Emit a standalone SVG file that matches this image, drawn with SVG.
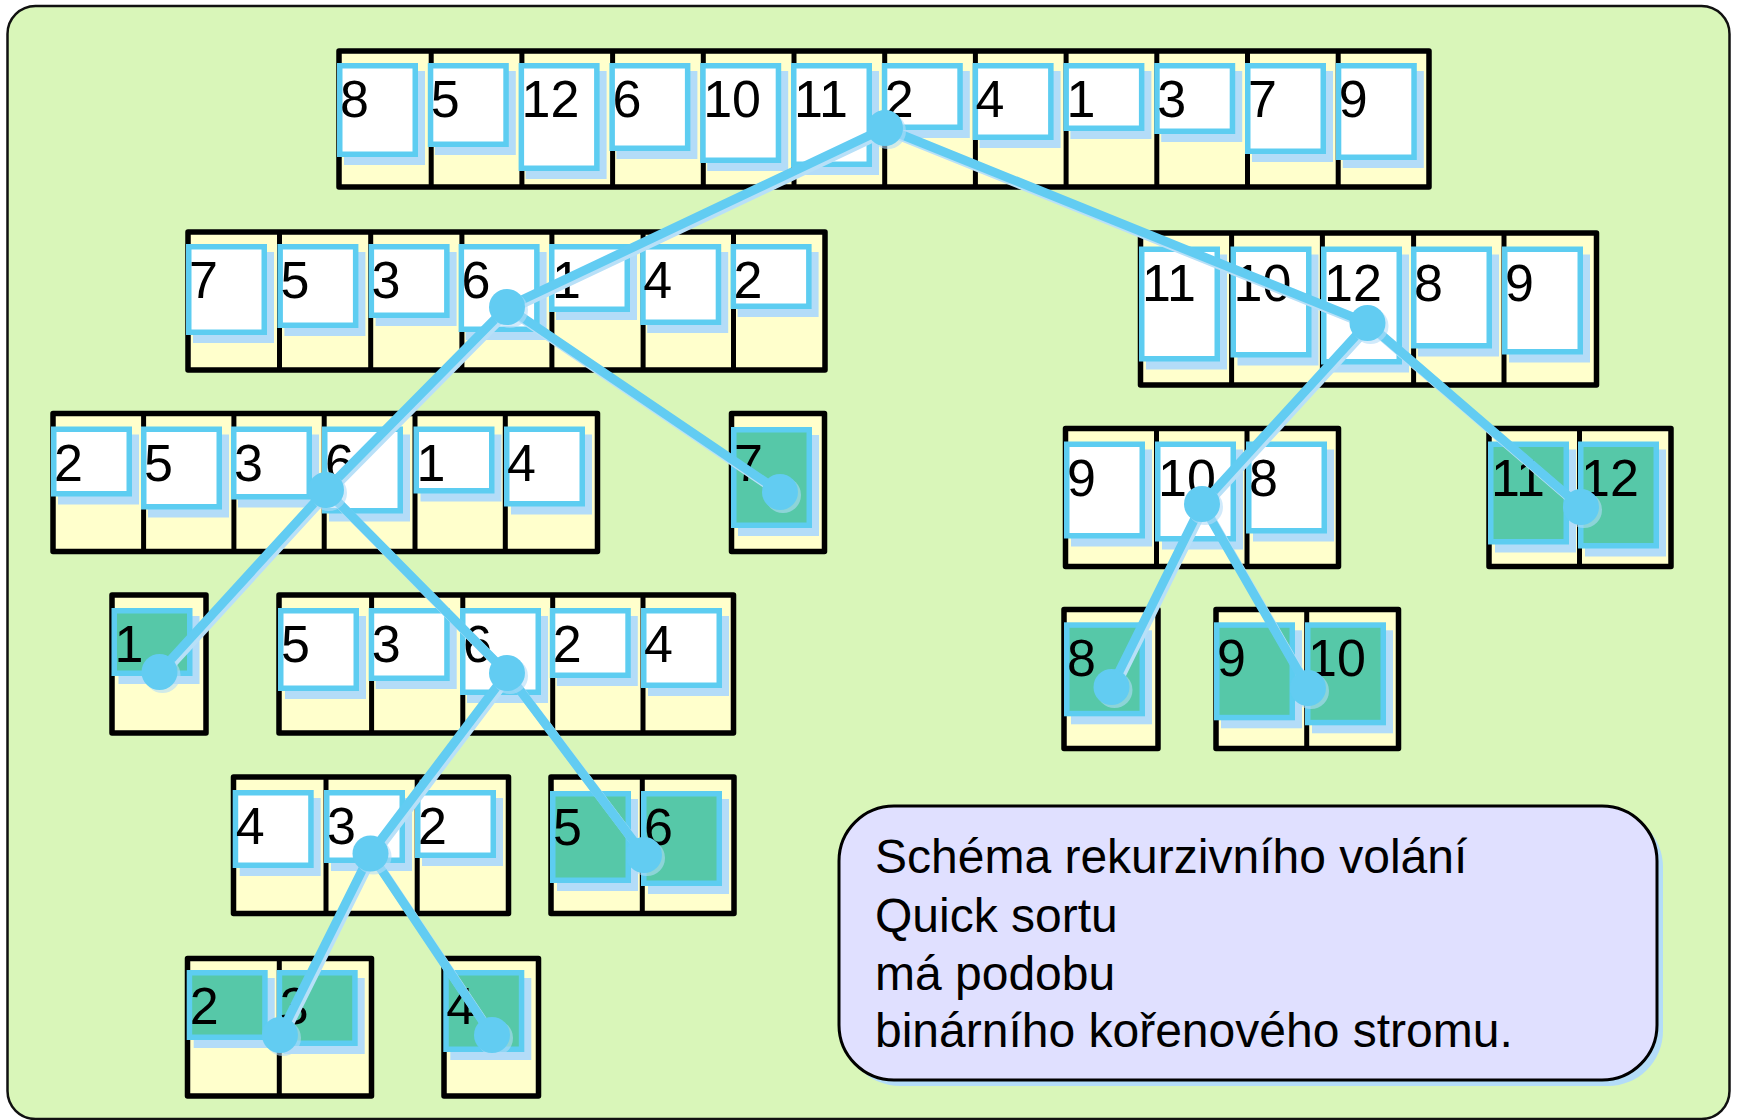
<svg xmlns="http://www.w3.org/2000/svg" width="1737" height="1120" viewBox="0 0 1737 1120">
<style>
.frame{fill:#D9F6B9;stroke:#111;stroke-width:2.5}
.box{fill:#FFFFCC;stroke:#000;stroke-width:5.5;stroke-linejoin:round}
.dv{fill:none;stroke:#000;stroke-width:5}
.sh{fill:#B3DCF8}
.cw{fill:#FFFFFF;stroke:#5DCDF1;stroke-width:5.5}
.cg{fill:#56C8A8;stroke:#5DCDF1;stroke-width:5.5}
.num{font-family:"Liberation Sans",Arial,sans-serif;font-size:52px;fill:#000}
.esh{fill:none;stroke:#B8E0F8;stroke-width:9;stroke-linecap:round}
.edge{fill:none;stroke:#62CCF2;stroke-width:9;stroke-linecap:round}
.dsh{fill:#B3DCF8;opacity:0.6}
.dot{fill:#62CCF2}
.note{fill:#E0E0FF;stroke:#000;stroke-width:3}
.notesh{fill:#B3DCF8}
.txt{font-family:"Liberation Sans",Arial,sans-serif;font-size:48px;fill:#000}
</style>
<rect class="frame" x="7.5" y="6" width="1722" height="1113" rx="28"/>

<g id="n0">
<rect class="box" x="339" y="51" width="1090" height="136"/>
<path class="dv" d="M431.2 51V187M521.9 51V187M612.6 51V187M703.3 51V187M794 51V187M884.7 51V187M975.4 51V187M1066.1 51V187M1156.8 51V187M1247.5 51V187M1338.2 51V187"/>
<g transform="translate(337,63)"><rect class="sh" x="7" y="8" width="81" height="94"/><rect class="cw" x="2.75" y="2.75" width="75.5" height="88.5"/><text class="num" x="3" y="54">8</text></g>
<g transform="translate(427.8,63)"><rect class="sh" x="7" y="8" width="81" height="84"/><rect class="cw" x="2.75" y="2.75" width="75.5" height="78.5"/><text class="num" x="3" y="54">5</text></g>
<g transform="translate(518.6,63)"><rect class="sh" x="7" y="8" width="81" height="108"/><rect class="cw" x="2.75" y="2.75" width="75.5" height="102.5"/><text class="num" x="3" y="54">12</text></g>
<g transform="translate(609.4,63)"><rect class="sh" x="7" y="8" width="81" height="88"/><rect class="cw" x="2.75" y="2.75" width="75.5" height="82.5"/><text class="num" x="3" y="54">6</text></g>
<g transform="translate(700.2,63)"><rect class="sh" x="7" y="8" width="81" height="100"/><rect class="cw" x="2.75" y="2.75" width="75.5" height="94.5"/><text class="num" x="3" y="54">10</text></g>
<g transform="translate(791,63)"><rect class="sh" x="7" y="8" width="81" height="104"/><rect class="cw" x="2.75" y="2.75" width="75.5" height="98.5"/><text class="num" x="3" y="54">11</text></g>
<g transform="translate(881.8,63)"><rect class="sh" x="7" y="8" width="81" height="67"/><rect class="cw" x="2.75" y="2.75" width="75.5" height="61.5"/><text class="num" x="3" y="54">2</text></g>
<g transform="translate(972.6,63)"><rect class="sh" x="7" y="8" width="81" height="77"/><rect class="cw" x="2.75" y="2.75" width="75.5" height="71.5"/><text class="num" x="3" y="54">4</text></g>
<g transform="translate(1063.4,63)"><rect class="sh" x="7" y="8" width="81" height="68"/><rect class="cw" x="2.75" y="2.75" width="75.5" height="62.5"/><text class="num" x="3" y="54">1</text></g>
<g transform="translate(1154.2,63)"><rect class="sh" x="7" y="8" width="81" height="71"/><rect class="cw" x="2.75" y="2.75" width="75.5" height="65.5"/><text class="num" x="3" y="54">3</text></g>
<g transform="translate(1245,63)"><rect class="sh" x="7" y="8" width="81" height="91"/><rect class="cw" x="2.75" y="2.75" width="75.5" height="85.5"/><text class="num" x="3" y="54">7</text></g>
<g transform="translate(1335.8,63)"><rect class="sh" x="7" y="8" width="81" height="97"/><rect class="cw" x="2.75" y="2.75" width="75.5" height="91.5"/><text class="num" x="3" y="54">9</text></g>
</g>

<g id="n1">
<rect class="box" x="188" y="232" width="637" height="138"/>
<path class="dv" d="M279.5 232V370M370.7 232V370M461.9 232V370M551.9 232V370M643.1 232V370M733.5 232V370"/>
<g transform="translate(186,244)"><rect class="sh" x="7" y="8" width="81" height="91"/><rect class="cw" x="2.75" y="2.75" width="75.5" height="85.5"/><text class="num" x="3" y="54">7</text></g>
<g transform="translate(277.4,244)"><rect class="sh" x="7" y="8" width="81" height="84"/><rect class="cw" x="2.75" y="2.75" width="75.5" height="78.5"/><text class="num" x="3" y="54">5</text></g>
<g transform="translate(368.6,244)"><rect class="sh" x="7" y="8" width="81" height="74"/><rect class="cw" x="2.75" y="2.75" width="75.5" height="68.5"/><text class="num" x="3" y="54">3</text></g>
<g transform="translate(458.6,244)"><rect class="sh" x="7" y="8" width="81" height="88"/><rect class="cw" x="2.75" y="2.75" width="75.5" height="82.5"/><text class="num" x="3" y="54">6</text></g>
<g transform="translate(549,244)"><rect class="sh" x="7" y="8" width="81" height="68"/><rect class="cw" x="2.75" y="2.75" width="75.5" height="62.5"/><text class="num" x="3" y="54">1</text></g>
<g transform="translate(640.2,244)"><rect class="sh" x="7" y="8" width="81" height="81"/><rect class="cw" x="2.75" y="2.75" width="75.5" height="75.5"/><text class="num" x="3" y="54">4</text></g>
<g transform="translate(730.6,244)"><rect class="sh" x="7" y="8" width="81" height="65"/><rect class="cw" x="2.75" y="2.75" width="75.5" height="59.5"/><text class="num" x="3" y="54">2</text></g>
</g>

<g id="n2">
<rect class="box" x="1140.5" y="233" width="456" height="152"/>
<path class="dv" d="M1231.6 233V385M1322.4 233V385M1413.6 233V385M1504 233V385"/>
<g transform="translate(1139,246.5)"><rect class="sh" x="7" y="8" width="81" height="115"/><rect class="cw" x="2.75" y="2.75" width="75.5" height="109.5"/><text class="num" x="3" y="54">11</text></g>
<g transform="translate(1230.5,246.5)"><rect class="sh" x="7" y="8" width="81" height="111"/><rect class="cw" x="2.75" y="2.75" width="75.5" height="105.5"/><text class="num" x="3" y="54">10</text></g>
<g transform="translate(1321,246.5)"><rect class="sh" x="7" y="8" width="81" height="118"/><rect class="cw" x="2.75" y="2.75" width="75.5" height="112.5"/><text class="num" x="3" y="54">12</text></g>
<g transform="translate(1411,246.5)"><rect class="sh" x="7" y="8" width="81" height="102"/><rect class="cw" x="2.75" y="2.75" width="75.5" height="96.5"/><text class="num" x="3" y="54">8</text></g>
<g transform="translate(1502,246.5)"><rect class="sh" x="7" y="8" width="81" height="108"/><rect class="cw" x="2.75" y="2.75" width="75.5" height="102.5"/><text class="num" x="3" y="54">9</text></g>
</g>

<g id="n3">
<rect class="box" x="53" y="413.5" width="544.5" height="138"/>
<path class="dv" d="M143.6 413.5V551.5M233.9 413.5V551.5M324.2 413.5V551.5M415 413.5V551.5M505.3 413.5V551.5"/>
<g transform="translate(51,426.5)"><rect class="sh" x="7" y="8" width="81" height="70"/><rect class="cw" x="2.75" y="2.75" width="75.5" height="64.5"/><text class="num" x="3" y="54">2</text></g>
<g transform="translate(141,426.5)"><rect class="sh" x="7" y="8" width="81" height="83"/><rect class="cw" x="2.75" y="2.75" width="75.5" height="77.5"/><text class="num" x="3" y="54">5</text></g>
<g transform="translate(231,426.5)"><rect class="sh" x="7" y="8" width="81" height="73"/><rect class="cw" x="2.75" y="2.75" width="75.5" height="67.5"/><text class="num" x="3" y="54">3</text></g>
<g transform="translate(322,426.5)"><rect class="sh" x="7" y="8" width="81" height="87"/><rect class="cw" x="2.75" y="2.75" width="75.5" height="81.5"/><text class="num" x="3" y="54">6</text></g>
<g transform="translate(413.5,426.5)"><rect class="sh" x="7" y="8" width="81" height="67"/><rect class="cw" x="2.75" y="2.75" width="75.5" height="61.5"/><text class="num" x="3" y="54">1</text></g>
<g transform="translate(504,426.5)"><rect class="sh" x="7" y="8" width="81" height="80"/><rect class="cw" x="2.75" y="2.75" width="75.5" height="74.5"/><text class="num" x="3" y="54">4</text></g>
</g>

<g id="n4">
<rect class="box" x="731.5" y="413.5" width="93" height="138"/>
<g transform="translate(731,427)"><rect class="sh" x="7" y="8" width="81" height="101"/><rect class="cg" x="2.75" y="2.75" width="75.5" height="95.5"/><text class="num" x="3" y="54">7</text></g>
</g>

<g id="n5">
<rect class="box" x="1065.5" y="428.5" width="273" height="138"/>
<path class="dv" d="M1156.5 428.5V566.5M1247 428.5V566.5"/>
<g transform="translate(1064,441.5)"><rect class="sh" x="7" y="8" width="81" height="97"/><rect class="cw" x="2.75" y="2.75" width="75.5" height="91.5"/><text class="num" x="3" y="54">9</text></g>
<g transform="translate(1155,441.5)"><rect class="sh" x="7" y="8" width="81" height="100"/><rect class="cw" x="2.75" y="2.75" width="75.5" height="94.5"/><text class="num" x="3" y="54">10</text></g>
<g transform="translate(1246,441.5)"><rect class="sh" x="7" y="8" width="81" height="92"/><rect class="cw" x="2.75" y="2.75" width="75.5" height="86.5"/><text class="num" x="3" y="54">8</text></g>
</g>

<g id="n6">
<rect class="box" x="1489" y="428.5" width="182" height="138"/>
<path class="dv" d="M1579.5 428.5V566.5"/>
<g transform="translate(1488,441.5)"><rect class="sh" x="7" y="8" width="81" height="103"/><rect class="cg" x="2.75" y="2.75" width="75.5" height="97.5"/><text class="num" x="3" y="54">11</text></g>
<g transform="translate(1578,441.5)"><rect class="sh" x="7" y="8" width="81" height="107"/><rect class="cg" x="2.75" y="2.75" width="75.5" height="101.5"/><text class="num" x="3" y="54">12</text></g>
</g>

<g id="n7">
<rect class="box" x="112" y="595" width="94" height="138"/>
<g transform="translate(111.5,608)"><rect class="sh" x="7" y="8" width="81" height="68"/><rect class="cg" x="2.75" y="2.75" width="75.5" height="62.5"/><text class="num" x="3" y="54">1</text></g>
</g>

<g id="n8">
<rect class="box" x="279" y="595" width="454.5" height="138"/>
<path class="dv" d="M371.6 595V733M462.8 595V733M552.7 595V733M643 595V733"/>
<g transform="translate(278,608)"><rect class="sh" x="7" y="8" width="81" height="83"/><rect class="cw" x="2.75" y="2.75" width="75.5" height="77.5"/><text class="num" x="3" y="54">5</text></g>
<g transform="translate(368.7,608)"><rect class="sh" x="7" y="8" width="81" height="73"/><rect class="cw" x="2.75" y="2.75" width="75.5" height="67.5"/><text class="num" x="3" y="54">3</text></g>
<g transform="translate(460,608)"><rect class="sh" x="7" y="8" width="81" height="87"/><rect class="cw" x="2.75" y="2.75" width="75.5" height="81.5"/><text class="num" x="3" y="54">6</text></g>
<g transform="translate(549.8,608)"><rect class="sh" x="7" y="8" width="81" height="70"/><rect class="cw" x="2.75" y="2.75" width="75.5" height="64.5"/><text class="num" x="3" y="54">2</text></g>
<g transform="translate(641,608)"><rect class="sh" x="7" y="8" width="81" height="80"/><rect class="cw" x="2.75" y="2.75" width="75.5" height="74.5"/><text class="num" x="3" y="54">4</text></g>
</g>

<g id="n9">
<rect class="box" x="1064" y="609.5" width="94" height="139"/>
<g transform="translate(1064,622.3)"><rect class="sh" x="7" y="8" width="81" height="94"/><rect class="cg" x="2.75" y="2.75" width="75.5" height="88.5"/><text class="num" x="3" y="54">8</text></g>
</g>

<g id="n10">
<rect class="box" x="1216" y="609.5" width="182.5" height="139"/>
<path class="dv" d="M1306.7 609.5V748.5"/>
<g transform="translate(1214,622.3)"><rect class="sh" x="7" y="8" width="81" height="98"/><rect class="cg" x="2.75" y="2.75" width="75.5" height="92.5"/><text class="num" x="3" y="54">9</text></g>
<g transform="translate(1305,622.3)"><rect class="sh" x="7" y="8" width="81" height="103"/><rect class="cg" x="2.75" y="2.75" width="75.5" height="97.5"/><text class="num" x="3" y="54">10</text></g>
</g>

<g id="n11">
<rect class="box" x="233.5" y="777" width="275" height="136.5"/>
<path class="dv" d="M326 777V913.5M417.2 777V913.5"/>
<g transform="translate(232.7,790)"><rect class="sh" x="7" y="8" width="81" height="78"/><rect class="cw" x="2.75" y="2.75" width="75.5" height="72.5"/><text class="num" x="3" y="54">4</text></g>
<g transform="translate(324,790)"><rect class="sh" x="7" y="8" width="81" height="73"/><rect class="cw" x="2.75" y="2.75" width="75.5" height="67.5"/><text class="num" x="3" y="54">3</text></g>
<g transform="translate(415,790)"><rect class="sh" x="7" y="8" width="81" height="68"/><rect class="cw" x="2.75" y="2.75" width="75.5" height="62.5"/><text class="num" x="3" y="54">2</text></g>
</g>

<g id="n12">
<rect class="box" x="551" y="777" width="183" height="136.5"/>
<path class="dv" d="M642.3 777V913.5"/>
<g transform="translate(550,791)"><rect class="sh" x="7" y="8" width="81" height="92"/><rect class="cg" x="2.75" y="2.75" width="75.5" height="86.5"/><text class="num" x="3" y="54">5</text></g>
<g transform="translate(641,791)"><rect class="sh" x="7" y="8" width="81" height="95"/><rect class="cg" x="2.75" y="2.75" width="75.5" height="89.5"/><text class="num" x="3" y="54">6</text></g>
</g>

<g id="n13">
<rect class="box" x="187.5" y="958.5" width="184" height="137.5"/>
<path class="dv" d="M279.3 958.5V1096"/>
<g transform="translate(186.7,970)"><rect class="sh" x="7" y="8" width="81" height="70"/><rect class="cg" x="2.75" y="2.75" width="75.5" height="64.5"/><text class="num" x="3" y="54">2</text></g>
<g transform="translate(276.7,970)"><rect class="sh" x="7" y="8" width="81" height="76"/><rect class="cg" x="2.75" y="2.75" width="75.5" height="70.5"/><text class="num" x="3" y="54">3</text></g>
</g>

<g id="n14">
<rect class="box" x="444" y="958.5" width="94.5" height="137.5"/>
<g transform="translate(443.3,970)"><rect class="sh" x="7" y="8" width="81" height="82"/><rect class="cg" x="2.75" y="2.75" width="75.5" height="76.5"/><text class="num" x="3" y="54">4</text></g>
</g>

<g id="connectors">
<g transform="translate(2.5,3)">
<path class="esh" d="M885 128L507 307M885 128L1367.5 323M507 307L326 490M507 307L780 492M1367.5 323L1202 504M1367.5 323L1581 507M326 490L159.5 672M326 490L507 673M1202 504L1111.5 687M1202 504L1308 688M507 673L370.5 853.5M507 673L644 855M370.5 853.5L280 1035M370.5 853.5L492 1035"/>
</g>
<path class="edge" d="M885 128L507 307M885 128L1367.5 323M507 307L326 490M507 307L780 492M1367.5 323L1202 504M1367.5 323L1581 507M326 490L159.5 672M326 490L507 673M1202 504L1111.5 687M1202 504L1308 688M507 673L370.5 853.5M507 673L644 855M370.5 853.5L280 1035M370.5 853.5L492 1035"/>
<g class="dsh">
<circle cx="888" cy="131" r="18"/><circle cx="510" cy="310" r="18"/><circle cx="1370.5" cy="326" r="18"/><circle cx="329" cy="493" r="18"/><circle cx="783" cy="495" r="18"/><circle cx="1205" cy="507" r="18"/><circle cx="1584" cy="510" r="18"/><circle cx="162.5" cy="675" r="18"/><circle cx="510" cy="676" r="18"/><circle cx="1114.5" cy="690" r="18"/><circle cx="1311" cy="691" r="18"/><circle cx="373.5" cy="856.5" r="18"/><circle cx="647" cy="858" r="18"/><circle cx="283" cy="1038" r="18"/><circle cx="495" cy="1038" r="18"/>
</g>
<g class="dot">
<circle cx="885" cy="128" r="18"/><circle cx="507" cy="307" r="18"/><circle cx="1367.5" cy="323" r="18"/><circle cx="326" cy="490" r="18"/><circle cx="780" cy="492" r="18"/><circle cx="1202" cy="504" r="18"/><circle cx="1581" cy="507" r="18"/><circle cx="159.5" cy="672" r="18"/><circle cx="507" cy="673" r="18"/><circle cx="1111.5" cy="687" r="18"/><circle cx="1308" cy="688" r="18"/><circle cx="370.5" cy="853.5" r="18"/><circle cx="644" cy="855" r="18"/><circle cx="280" cy="1035" r="18"/><circle cx="492" cy="1035" r="18"/>
</g>
</g>

<g id="note">
<rect class="notesh" x="845" y="812" width="818" height="274" rx="55"/>
<rect class="note" x="839" y="806" width="818" height="274" rx="55"/>
<text class="txt" x="875" y="873">Schéma rekurzivního volání</text>
<text class="txt" x="875" y="932">Quick sortu</text>
<text class="txt" x="875" y="990">má podobu</text>
<text class="txt" x="875" y="1047">binárního kořenového stromu.</text>
</g>
</svg>
